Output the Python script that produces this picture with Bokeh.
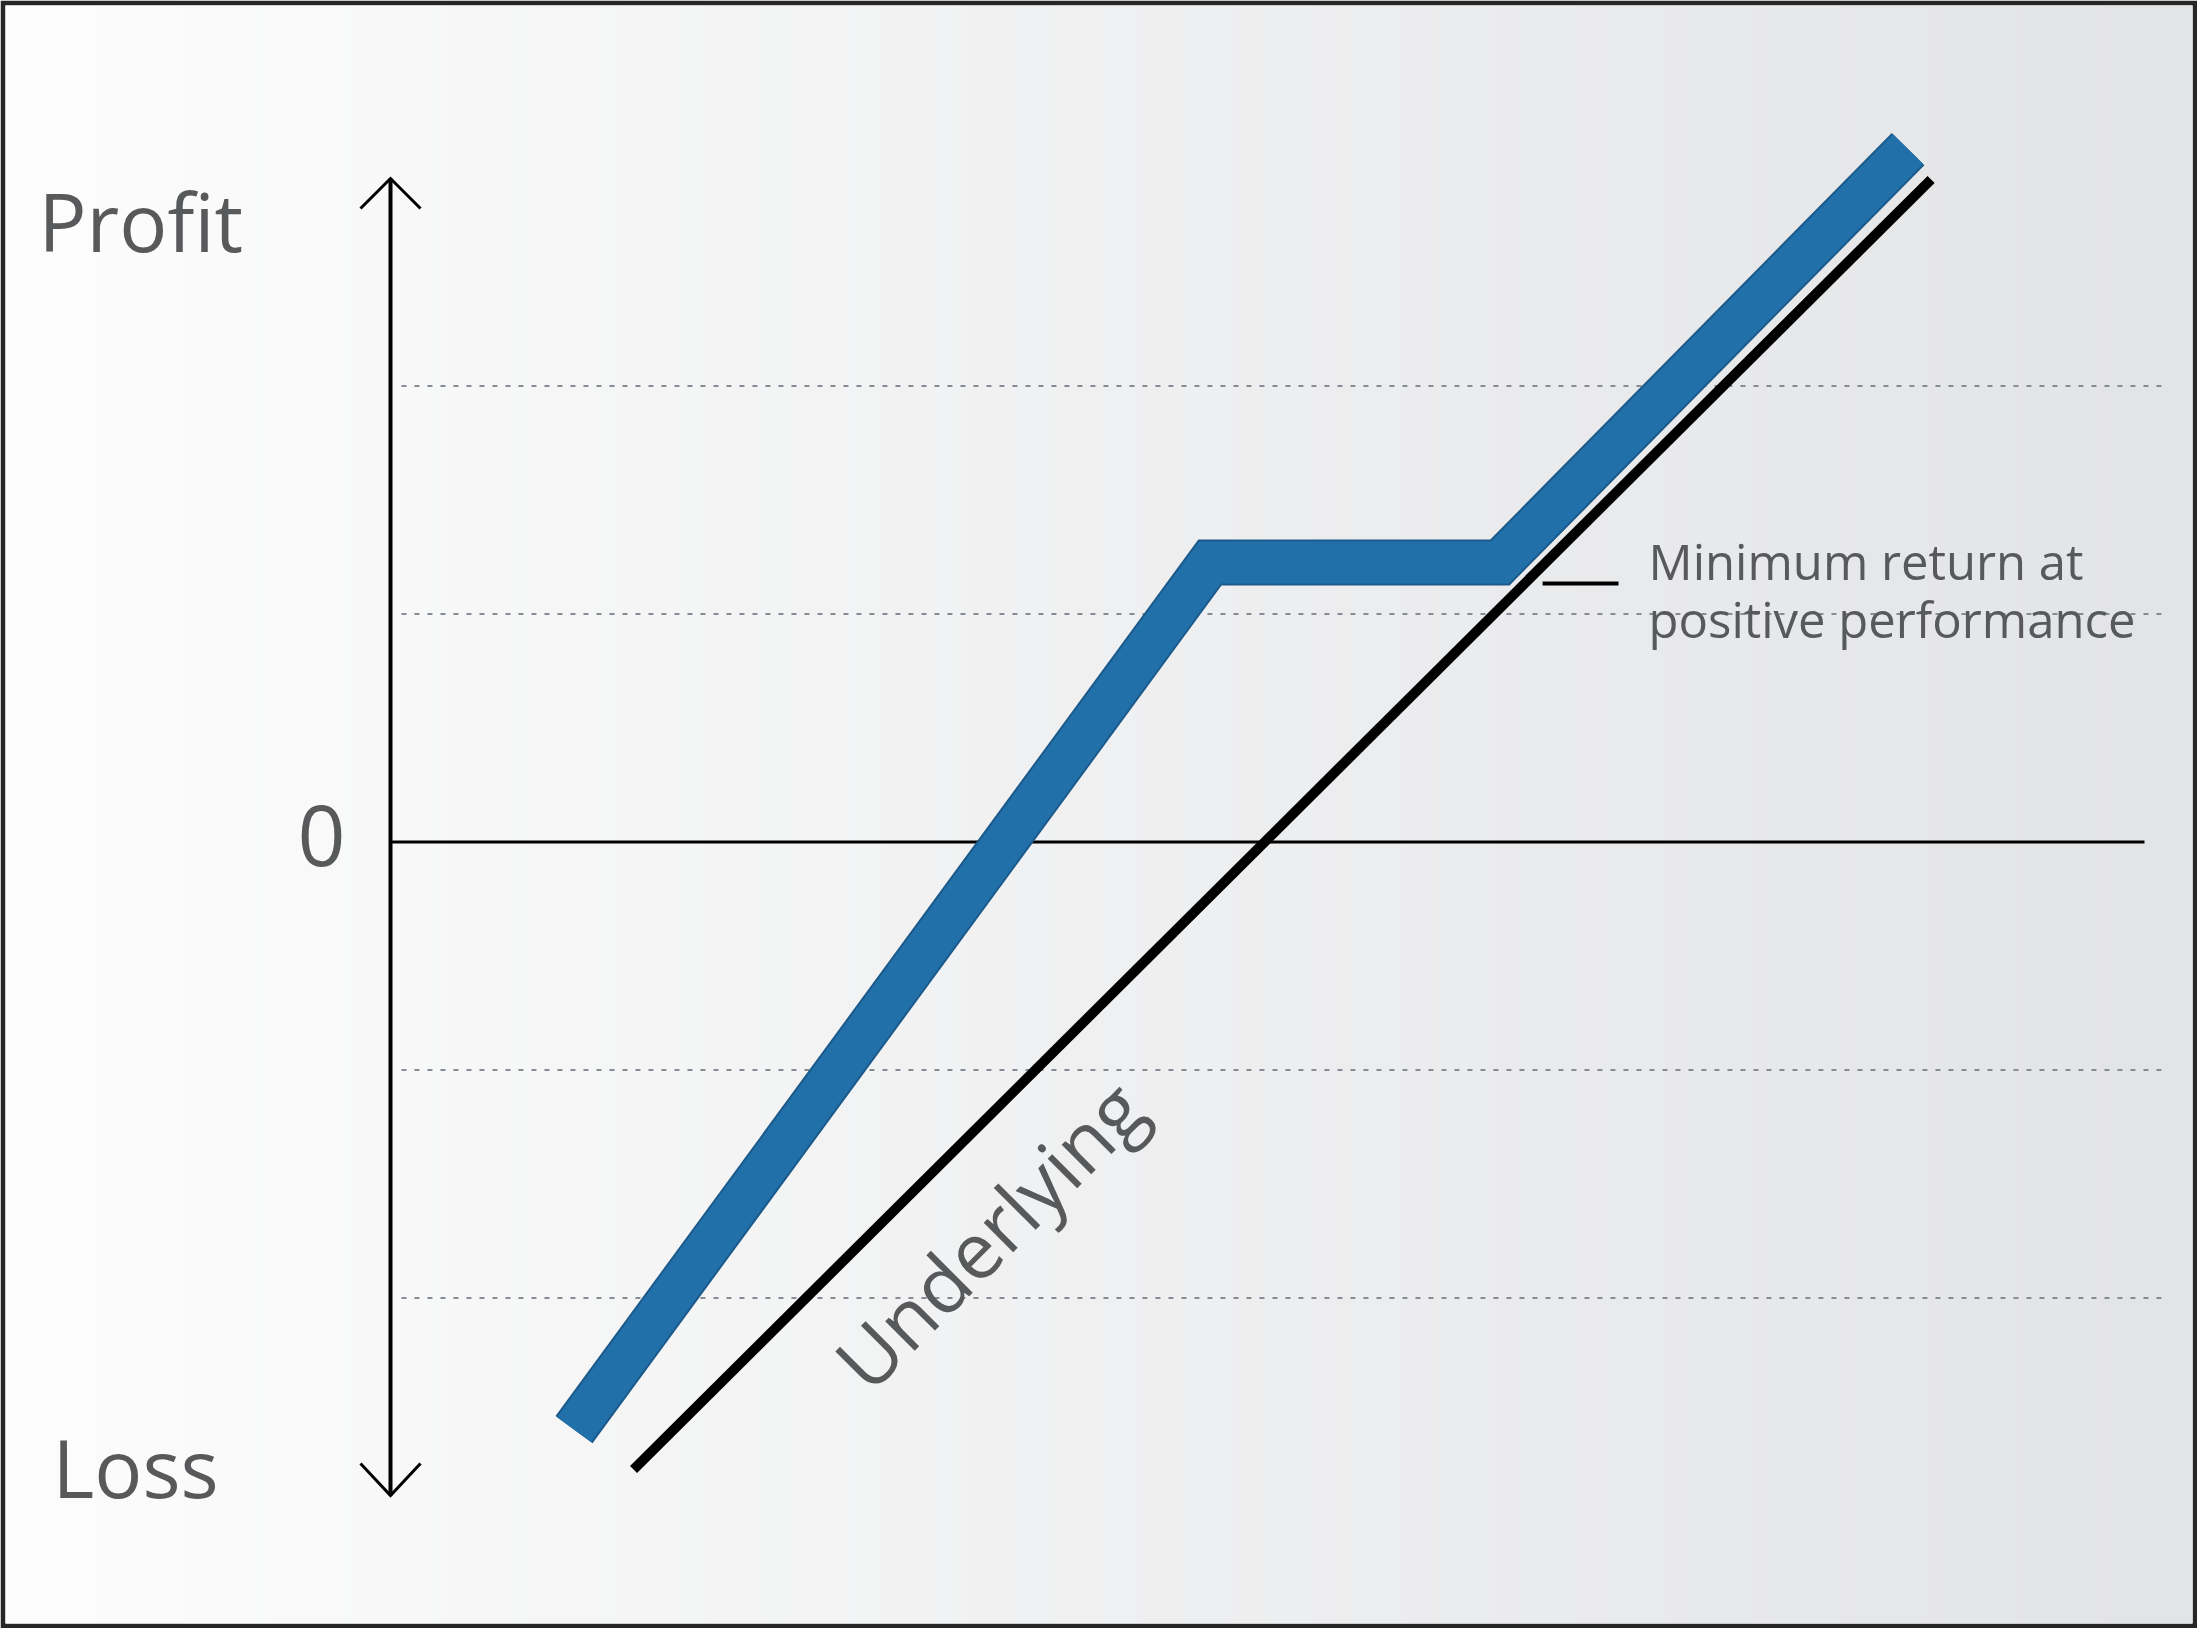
import numpy as np
from bokeh.plotting import figure
from bokeh.embed import file_html
from bokeh.resources import INLINE
from bokeh.core.properties import value

# ---- data (chart units: one dotted gridline step = 1, zero line at 0) ----
underlying_x = [1.066, 6.757]
underlying_y = [-2.752, 2.906]

product_x = [0.805, 3.594, 4.866, 6.656]
product_y = [-2.577, 1.226, 1.226, 3.039]

grid_levels = [-2, -1, 1, 2]

end_labels = ["Profit", "Loss"]
zero_label = "0"
line_label = "Underlying"
note_lines = ["Minimum return at", "positive performance"]

# ---- figure ----
W, H = 2197, 1628
B = 5                 # dark border thickness
PX = 228.0            # pixels per unit
ox, oy = 390.0, 841.5  # canvas position of origin
xr = (-(ox - B) / PX, -(ox - B) / PX + (W - 2 * B) / PX)
yr_top = (oy - B) / PX
yr = (yr_top - (H - 2 * B) / PX, yr_top)

p = figure(width=W, height=H, x_range=xr, y_range=yr,
           output_backend="svg", toolbar_location=None,
           x_axis_location=None, y_axis_location=None,
           min_border=B)
p.grid.visible = False
p.outline_line_color = None
p.background_fill_color = "#f2f2f2"
p.border_fill_color = "#262626"

# background gradient (left white -> right light grey)
n = 512
t = np.linspace(0, 1, n)
c0 = np.array([253, 253, 253])
c1 = np.array([227, 228, 230])
cols = (c0[None, :] * (1 - t[:, None]) + c1[None, :] * t[:, None]).astype(np.uint32)
img = np.empty((1, n), dtype=np.uint32)
view = img.view(dtype=np.uint8).reshape((1, n, 4))
view[0, :, 0] = cols[:, 0]
view[0, :, 1] = cols[:, 1]
view[0, :, 2] = cols[:, 2]
view[0, :, 3] = 255
p.image_rgba(image=[img], x=xr[0], y=yr[0], dw=xr[1] - xr[0], dh=yr[1] - yr[0])

# dotted gridlines
gx0, gx1 = 0.048, 7.785
p.multi_line(xs=[[gx0, gx1] for _ in grid_levels], ys=[[g, g] for g in grid_levels],
             line_color="#878b96", line_width=2, line_dash="5 8")

# zero line
p.line(x=[0, 7.693], y=[0, 0], line_color="#000000", line_width=3)

# vertical axis with arrows
top, bot = 2.910, -2.866
p.line(x=[0, 0], y=[bot, top], line_color="#000000", line_width=4)
a = 30 / PX
p.line(x=[-a, 0, a], y=[top - a, top, top - a], line_color="#000000", line_width=3,
       line_join="miter")
p.line(x=[-a, 0, a], y=[bot + 32 / PX, bot, bot + 32 / PX], line_color="#000000",
       line_width=3, line_join="miter")

# underlying
p.line(x=underlying_x, y=underlying_y, line_color="#000000", line_width=10,
       line_cap="butt")

# product payoff (blue band with darker edge)
p.line(x=product_x, y=product_y, line_color="#1b5a8a", line_width=46,
       line_join="miter", line_cap="butt")
p.line(x=product_x, y=product_y, line_color="#2170aa", line_width=42,
       line_join="miter", line_cap="butt")

# leader line for note
p.line(x=[5.053, 5.386], y=[1.134, 1.134], line_color="#000000", line_width=4)

grey = "#58595b"
font = value("Open Sans")

# axis end labels
p.text(x=[-1.544, -1.482], y=[2.726, -2.737], text=end_labels,
       text_font=font, text_font_size="80px", text_color=grey,
       text_align="left", text_baseline="alphabetic")
p.text(x=[-0.408], y=[0.027], text=[zero_label],
       text_font=font, text_font_size="84px", text_color=grey,
       text_align="left", text_baseline="alphabetic")

# underlying label (rotated)
p.text(x=[2.009], y=[-2.336], text=[line_label], angle=np.pi / 4,
       text_font=font, text_font_size="78px", text_color=grey,
       text_align="left", text_baseline="alphabetic")

# note
p.text(x=[5.518, 5.518], y=[1.233, 0.979], text=note_lines,
       text_font=font, text_font_size="49px", text_color=grey,
       text_align="left", text_baseline="alphabetic")

open("out.html", "w").write(file_html(p, INLINE))
